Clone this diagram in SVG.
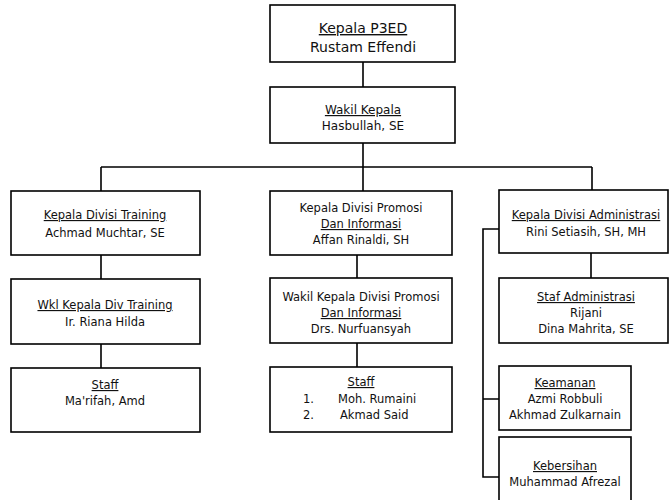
<svg xmlns="http://www.w3.org/2000/svg" width="670" height="500" viewBox="0 0 670 500">
<style>
.box{fill:#fff;stroke:#000;stroke-width:1.6}
.ln{fill:none;stroke:#000;stroke-width:1.6}
text{font-family:"DejaVu Sans","Liberation Sans",sans-serif;font-size:11.5px;fill:#111;text-anchor:middle}
.big{font-size:14px}
.mid{font-size:12px}
.u{text-decoration:underline}
.st{text-anchor:start}
</style>
<rect width="670" height="500" fill="#fff"/>
<g id="connectors">
<path class="ln" d="M363 62V87M363 143V191M101 167H592M101 167V191M592 167V190"/>
<path class="ln" d="M101 255V279M101 344V368"/>
<path class="ln" d="M357 255V278M357 343V367"/>
<path class="ln" d="M591 253V278M499 229H483V477H499M483 399H499"/>
</g>
<g id="kepala">
<rect class="box" x="270" y="5" width="185" height="57"/>
<text class="big u" x="363" y="33">Kepala P3ED</text>
<text class="big" x="363" y="52">Rustam Effendi</text>
</g>
<g id="wakil">
<rect class="box" x="270" y="87" width="185" height="56"/>
<text class="mid u" x="363" y="114">Wakil Kepala</text>
<text class="mid" x="363" y="130">Hasbullah, SE</text>
</g>
<g id="div-training">
<rect class="box" x="11" y="191" width="189" height="64"/>
<text class="u" x="105" y="219">Kepala Divisi Training</text>
<text x="105" y="237">Achmad Muchtar, SE</text>
</g>
<g id="wkl-training">
<rect class="box" x="11" y="279" width="189" height="65"/>
<text class="u" x="105" y="309">Wkl Kepala Div Training</text>
<text x="105" y="326">Ir. Riana Hilda</text>
</g>
<g id="staff-training">
<rect class="box" x="11" y="368" width="189" height="64"/>
<text class="u" x="105" y="389">Staff</text>
<text x="105" y="405">Ma'rifah, Amd</text>
</g>
<g id="div-promosi">
<rect class="box" x="270" y="191" width="182" height="64"/>
<text x="361" y="212">Kepala Divisi Promosi</text>
<text class="u" x="361" y="228">Dan Informasi</text>
<text x="361" y="244">Affan Rinaldi, SH</text>
</g>
<g id="wakil-promosi">
<rect class="box" x="270" y="278" width="182" height="65"/>
<text x="361" y="301">Wakil Kepala Divisi Promosi</text>
<text class="u" x="361" y="317">Dan Informasi</text>
<text x="361" y="333">Drs. Nurfuansyah</text>
</g>
<g id="staff-promosi">
<rect class="box" x="270" y="367" width="182" height="65"/>
<text class="u" x="361" y="386">Staff</text>
<text class="st" x="303" y="403">1.</text>
<text class="st" x="338" y="403">Moh. Rumaini</text>
<text class="st" x="303" y="419">2.</text>
<text class="st" x="340" y="419">Akmad Said</text>
</g>
<g id="div-administrasi">
<rect class="box" x="499" y="190" width="169" height="63"/>
<text class="u" x="586" y="219">Kepala Divisi Administrasi</text>
<text x="586" y="236">Rini Setiasih, SH, MH</text>
</g>
<g id="staf-administrasi">
<rect class="box" x="499" y="278" width="169" height="65"/>
<text class="u" x="586" y="301">Staf Administrasi</text>
<text x="586" y="317">Rijani</text>
<text x="586" y="333">Dina Mahrita, SE</text>
</g>
<g id="keamanan">
<rect class="box" x="499" y="366" width="132" height="64"/>
<text class="u" x="565" y="387">Keamanan</text>
<text x="565" y="403">Azmi Robbuli</text>
<text x="565" y="419">Akhmad Zulkarnain</text>
</g>
<g id="kebersihan">
<rect class="box" x="499" y="437" width="132" height="70"/>
<text class="u" x="565" y="470">Kebersihan</text>
<text x="565" y="486">Muhammad Afrezal</text>
</g>
</svg>
